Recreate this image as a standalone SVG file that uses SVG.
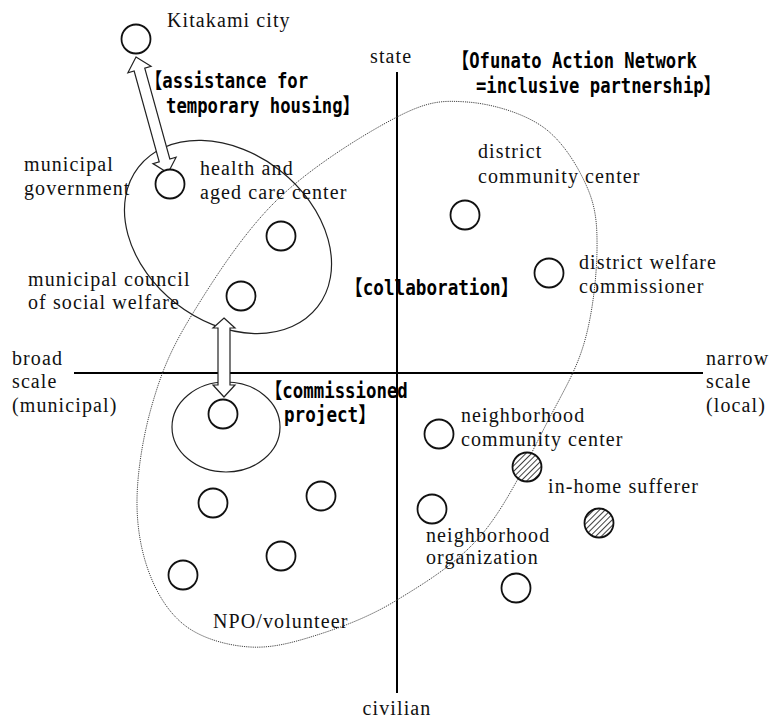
<svg xmlns="http://www.w3.org/2000/svg" width="779" height="720" viewBox="0 0 779 720">
<style>
.lbl{font-family:"Liberation Serif","Times New Roman",serif;font-size:20px;letter-spacing:1.1px;fill:#111}
.bold{font-family:"DejaVu Sans Mono","Noto Sans CJK JP",monospace;font-size:21px;font-weight:bold;fill:#000}
.node{fill:#fff;stroke:#111;stroke-width:1.8}
.hatch{fill:url(#hatch);stroke:#111;stroke-width:1.8}
.region{fill:none;stroke:#222;stroke-width:1.2}
.net{fill:none;stroke:#444;stroke-width:1;stroke-dasharray:1.2 1}
.axis{stroke:#000;stroke-width:2}
.arrow{fill:#fff;stroke:#222;stroke-width:1.2}
</style>
<defs>
<pattern id="hatch" patternUnits="userSpaceOnUse" width="4" height="4" patternTransform="rotate(45)">
<rect width="4" height="4" fill="#fff"/>
<line x1="0" y1="0" x2="0" y2="4" stroke="#111" stroke-width="1.6"/>
</pattern>
</defs>
<rect width="779" height="720" fill="#fff"/>

<g id="axes">
<line class="axis" x1="397" y1="72" x2="397" y2="693"/>
<line class="axis" x1="74" y1="373" x2="703" y2="373"/>
<text class="lbl" x="370" y="63">state</text>
<text class="lbl" x="397" y="715" text-anchor="middle">civilian</text>
<text class="lbl" x="12" y="365">broad</text>
<text class="lbl" x="12" y="388">scale</text>
<text class="lbl" x="12" y="412">(municipal)</text>
<text class="lbl" x="706" y="365">narrow</text>
<text class="lbl" x="706" y="388">scale</text>
<text class="lbl" x="706" y="412">(local)</text>
</g>

<g id="network-region">
<path class="net" d="M467,102 C491.3,103.7 523,112.8 543,127 C563,141.2 578,166.5 587,187 C596,207.5 597.3,224.5 597,250 C596.7,275.5 592.8,312.2 585,340 C577.2,367.8 567,384.8 550,417 C533,449.2 508.5,502.5 483,533 C457.5,563.5 424.7,583 397,600 C369.3,617 341.5,627.2 317,635 C292.5,642.8 271.7,648.3 250,647 C228.3,645.7 203.7,639 187,627 C170.3,615 158.3,596.2 150,575 C141.7,553.8 136.7,528.3 137,500 C137.3,471.7 143.2,435.3 152,405 C160.8,374.7 169.2,352.2 190,318 C210.8,283.8 242.5,233.5 277,200 C311.5,166.5 365.3,133.3 397,117 C428.7,100.7 442.7,100.3 467,102 Z"/>
<text class="bold" x="452" y="68" textLength="244.8" lengthAdjust="spacingAndGlyphs">【Ofunato Action Network</text>
<text class="bold" x="476" y="93" textLength="244.8" lengthAdjust="spacingAndGlyphs">=inclusive partnership】</text>
<text class="bold" x="345" y="295" textLength="173.4" lengthAdjust="spacingAndGlyphs">【collaboration】</text>
</g>

<g id="municipal-region">
<ellipse class="region" cx="228" cy="237" rx="113.6" ry="84.5" transform="rotate(38 228 237)"/>
</g>

<g id="commissioned-region">
<ellipse class="region" cx="226" cy="427" rx="54" ry="45"/>
<text class="bold" x="265" y="398" textLength="142.8" lengthAdjust="spacingAndGlyphs">【commissioned</text>
<text class="bold" x="284" y="422" textLength="91.8" lengthAdjust="spacingAndGlyphs">project】</text>
</g>

<g id="connectors">
<polygon class="arrow" transform="translate(136,57) rotate(74.58)" points="0,0 13,-12 13,-5.5 107.3,-5.5 107.3,-12 120.3,0 107.3,12 107.3,5.5 13,5.5 13,12"/>
<polygon class="arrow" points="224,318 235,328 230,328 230,385 235,385 224,397 213,385 218,385 218,328 213,328"/>
<text class="bold" x="145" y="88" textLength="163.2" lengthAdjust="spacingAndGlyphs">【assistance for</text>
<text class="bold" x="166" y="113" textLength="193.8" lengthAdjust="spacingAndGlyphs">temporary housing】</text>
</g>

<g id="kitakami-city">
<circle class="node" cx="136" cy="39" r="14.5"/>
<text class="lbl" x="167" y="27">Kitakami city</text>
</g>
<g id="municipal-government">
<circle class="node" cx="170" cy="184" r="14.5"/>
<text class="lbl" x="24" y="171">municipal</text>
<text class="lbl" x="24" y="195">government</text>
</g>
<g id="health-aged-care-center">
<circle class="node" cx="281" cy="236" r="14.5"/>
<text class="lbl" x="200" y="175">health and</text>
<text class="lbl" x="200" y="199">aged care center</text>
</g>
<g id="municipal-council">
<circle class="node" cx="241" cy="296" r="14.5"/>
<text class="lbl" x="28" y="286">municipal council</text>
<text class="lbl" x="28" y="309">of social welfare</text>
</g>
<g id="commissioned-npo">
<circle class="node" cx="223" cy="414" r="14.5"/>
</g>
<g id="district-community-center">
<circle class="node" cx="465" cy="215" r="14.5"/>
<text class="lbl" x="478" y="158">district</text>
<text class="lbl" x="478" y="183">community center</text>
</g>
<g id="district-welfare-commissioner">
<circle class="node" cx="549" cy="273" r="14.5"/>
<text class="lbl" x="579" y="269">district welfare</text>
<text class="lbl" x="579" y="293">commissioner</text>
</g>
<g id="neighborhood-community-center">
<circle class="node" cx="439" cy="434" r="14.5"/>
<text class="lbl" x="461" y="422">neighborhood</text>
<text class="lbl" x="461" y="446">community center</text>
</g>
<g id="in-home-sufferer">
<circle class="hatch" cx="527" cy="467" r="14.5"/>
<circle class="hatch" cx="599" cy="523" r="14.5"/>
<text class="lbl" x="548" y="493">in-home sufferer</text>
</g>
<g id="neighborhood-organization">
<circle class="node" cx="432" cy="509" r="14.5"/>
<circle class="node" cx="516" cy="588" r="14.5"/>
<text class="lbl" x="426" y="542">neighborhood</text>
<text class="lbl" x="426" y="564">organization</text>
</g>
<g id="npo-volunteer">
<circle class="node" cx="213" cy="503" r="14.5"/>
<circle class="node" cx="321" cy="496" r="14.5"/>
<circle class="node" cx="281" cy="556" r="14.5"/>
<circle class="node" cx="183" cy="575" r="14.5"/>
<text class="lbl" x="213" y="628">NPO/volunteer</text>
</g>
</svg>
